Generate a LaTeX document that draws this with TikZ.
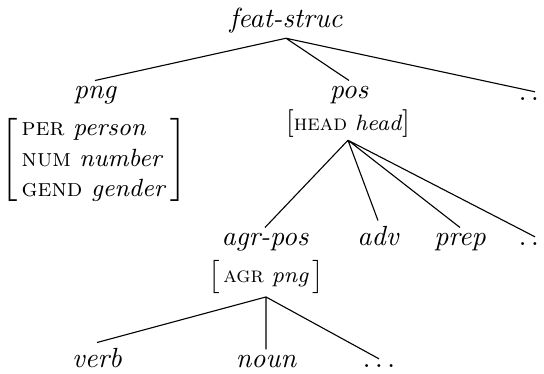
\documentclass[tikz,border=0pt]{standalone}
\begin{document}
\begin{tikzpicture}[x=0.361pt,y=-0.361pt,
		type/.style={font=\itshape,inner sep=1.7pt,anchor=base},
		avm/.style={font=\footnotesize,inner sep=1pt}]
	\useasboundingbox (0,0) rectangle (544,373);
	% types, top down
	\node[type,text depth=.5ex] (feat) at (286,27) {feat-struc};
	\node[type] (png) at (95,98) {png};
	\node[type] (pos) at (349,98) {pos};
	\node[type] (rest) at (535,100) {$\ldots$};
	\node[avm,font=\small] (pngavm) at (94,160) {$\left[\begin{tabular}{@{\,}l@{\,}}\textsc{per} \textit{person}\\ \textsc{num} \textit{number}\\ \textsc{gend} \textit{gender}\end{tabular}\right]$};
	\node[avm,font=\normalsize,anchor=base] (posavm) at (348,130) {[{\footnotesize\textsc{head} \textit{head}}]};
	\node[type] (agrpos) at (265,245) {agr-pos};
	\node[type] (adv) at (378,245) {adv};
	\node[type] (prep) at (460,245) {prep};
	\node[type] (posrest) at (535,245) {$\ldots$};
	\node[avm] (agravm) at (266,277) {$\left[\begin{tabular}{@{\,}l@{\,}}\textsc{agr} \textit{png}\end{tabular}\right]$};
	\node[type] (verb) at (97,367) {verb};
	\node[type] (noun) at (266,367) {noun};
	\node[type] (agrrest) at (379,367) {$\ldots$};
	% edges
	\draw (feat.south) -- (png.north) (feat.south) -- (pos.north) (feat.south) -- (rest.north);
	\draw (posavm.south) -- (agrpos.north) (posavm.south) -- (adv.north) (posavm.south) -- (prep.north) (posavm.south) -- (posrest.north);
	\draw (agravm.south) -- (verb.north) (agravm.south) -- (noun.north) (agravm.south) -- (agrrest.north);
\end{tikzpicture}
\end{document}
